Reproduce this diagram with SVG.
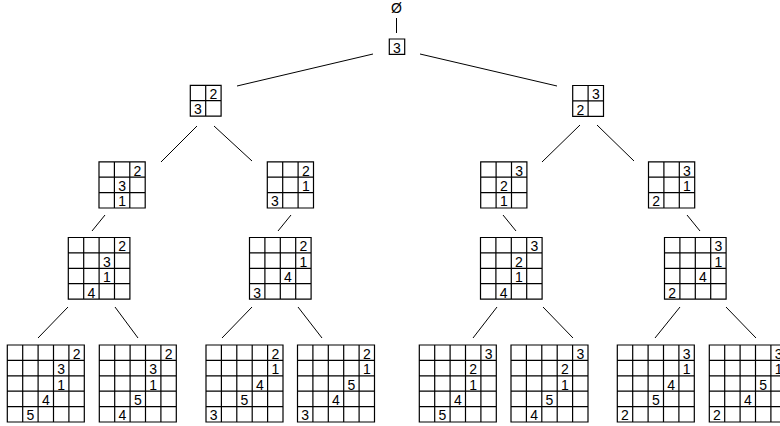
<svg xmlns="http://www.w3.org/2000/svg" xmlns:xlink="http://www.w3.org/1999/xlink" width="780" height="426" viewBox="0 0 780 426">
<style>
.grid{fill:#fff;stroke:#000;stroke-width:1.2}
.d{font-family:"Liberation Sans",Arial,sans-serif;font-size:14px;text-anchor:middle;fill:#000}
.e{stroke:#000;stroke-width:1;fill:none}
</style>
<defs>
<path id="g1" class="grid" d="M0 0H15.4V15.4H0Z"/>
<path id="g2" class="grid" d="M0 0H30.8V30.8H0Z M15.4 0V30.8 M0 15.4H30.8"/>
<path id="g3" class="grid" d="M0 0H46.2V46.2H0Z M15.4 0V46.2 M30.8 0V46.2 M0 15.4H46.2 M0 30.8H46.2"/>
<path id="g4" class="grid" d="M0 0H61.6V61.6H0Z M15.4 0V61.6 M30.8 0V61.6 M46.2 0V61.6 M0 15.4H61.6 M0 30.8H61.6 M0 46.2H61.6"/>
<path id="g5" class="grid" d="M0 0H77V77H0Z M15.4 0V77 M30.8 0V77 M46.2 0V77 M61.6 0V77 M0 15.4H77 M0 30.8H77 M0 46.2H77 M0 61.6H77"/>
</defs>
<rect width="780" height="426" fill="#fff"/>
<g id="connectors" class="e">
<line x1="396.5" y1="18" x2="396.5" y2="33"/>
<line x1="373" y1="54" x2="237" y2="86"/>
<line x1="420" y1="54" x2="557" y2="86"/>
<line x1="197" y1="126" x2="161" y2="162"/>
<line x1="214" y1="126" x2="252" y2="161"/>
<line x1="580" y1="125" x2="542" y2="162"/>
<line x1="597" y1="125" x2="634" y2="161"/>
<line x1="105" y1="215" x2="92" y2="231"/>
<line x1="291" y1="215" x2="278" y2="231"/>
<line x1="503" y1="215" x2="516" y2="231"/>
<line x1="687" y1="215" x2="700" y2="231"/>
<line x1="68" y1="307" x2="38" y2="338"/>
<line x1="115" y1="307" x2="138" y2="338"/>
<line x1="252" y1="307" x2="222" y2="338"/>
<line x1="298" y1="307" x2="322" y2="338"/>
<line x1="497" y1="307" x2="473" y2="338"/>
<line x1="543" y1="307" x2="573" y2="338"/>
<line x1="680" y1="307" x2="655" y2="338"/>
<line x1="726" y1="307" x2="756" y2="338"/>
</g>
<g id="root"><text class="d" x="396.5" y="13">Ø</text></g>
<g id="n1" transform="translate(389.3,39)"><use xlink:href="#g1"/><text class="d" x="7.7" y="13.8">3</text></g>
<g id="n2a" transform="translate(190.3,85.3)"><use xlink:href="#g2"/><text class="d" x="23.1" y="13.8">2</text><text class="d" x="7.7" y="29.2">3</text></g>
<g id="n2b" transform="translate(572.7,85.5)"><use xlink:href="#g2"/><text class="d" x="23.1" y="13.8">3</text><text class="d" x="7.7" y="29.2">2</text></g>
<g id="n3a" transform="translate(99,161.8)"><use xlink:href="#g3"/><text class="d" x="38.5" y="13.8">2</text><text class="d" x="23.1" y="29.2">3</text><text class="d" x="23.1" y="44.6">1</text></g>
<g id="n3b" transform="translate(267.3,161.8)"><use xlink:href="#g3"/><text class="d" x="38.5" y="13.8">2</text><text class="d" x="38.5" y="29.2">1</text><text class="d" x="7.7" y="44.6">3</text></g>
<g id="n3c" transform="translate(480.7,161.8)"><use xlink:href="#g3"/><text class="d" x="38.5" y="13.8">3</text><text class="d" x="23.1" y="29.2">2</text><text class="d" x="23.1" y="44.6">1</text></g>
<g id="n3d" transform="translate(648.5,161.8)"><use xlink:href="#g3"/><text class="d" x="38.5" y="13.8">3</text><text class="d" x="38.5" y="29.2">1</text><text class="d" x="7.7" y="44.6">2</text></g>
<g id="n4a" transform="translate(68.3,237.5)"><use xlink:href="#g4"/><text class="d" x="53.9" y="13.8">2</text><text class="d" x="38.5" y="29.2">3</text><text class="d" x="38.5" y="44.6">1</text><text class="d" x="23.1" y="60">4</text></g>
<g id="n4b" transform="translate(249.5,237.5)"><use xlink:href="#g4"/><text class="d" x="53.9" y="13.8">2</text><text class="d" x="53.9" y="29.2">1</text><text class="d" x="38.5" y="44.6">4</text><text class="d" x="7.7" y="60">3</text></g>
<g id="n4c" transform="translate(480.5,237.5)"><use xlink:href="#g4"/><text class="d" x="53.9" y="13.8">3</text><text class="d" x="38.5" y="29.2">2</text><text class="d" x="38.5" y="44.6">1</text><text class="d" x="23.1" y="60">4</text></g>
<g id="n4d" transform="translate(664.5,237.5)"><use xlink:href="#g4"/><text class="d" x="53.9" y="13.8">3</text><text class="d" x="53.9" y="29.2">1</text><text class="d" x="38.5" y="44.6">4</text><text class="d" x="7.7" y="60">2</text></g>
<g id="n5a" transform="translate(7.3,345)"><use xlink:href="#g5"/><text class="d" x="69.3" y="13.8">2</text><text class="d" x="53.9" y="29.2">3</text><text class="d" x="53.9" y="44.6">1</text><text class="d" x="38.5" y="60">4</text><text class="d" x="23.1" y="75.4">5</text></g>
<g id="n5b" transform="translate(99.3,345)"><use xlink:href="#g5"/><text class="d" x="69.3" y="13.8">2</text><text class="d" x="53.9" y="29.2">3</text><text class="d" x="53.9" y="44.6">1</text><text class="d" x="38.5" y="60">5</text><text class="d" x="23.1" y="75.4">4</text></g>
<g id="n5c" transform="translate(206,345)"><use xlink:href="#g5"/><text class="d" x="69.3" y="13.8">2</text><text class="d" x="69.3" y="29.2">1</text><text class="d" x="53.9" y="44.6">4</text><text class="d" x="38.5" y="60">5</text><text class="d" x="7.7" y="75.4">3</text></g>
<g id="n5d" transform="translate(297.5,345)"><use xlink:href="#g5"/><text class="d" x="69.3" y="13.8">2</text><text class="d" x="69.3" y="29.2">1</text><text class="d" x="53.9" y="44.6">5</text><text class="d" x="38.5" y="60">4</text><text class="d" x="7.7" y="75.4">3</text></g>
<g id="n5e" transform="translate(419.3,345)"><use xlink:href="#g5"/><text class="d" x="69.3" y="13.8">3</text><text class="d" x="53.9" y="29.2">2</text><text class="d" x="53.9" y="44.6">1</text><text class="d" x="38.5" y="60">4</text><text class="d" x="23.1" y="75.4">5</text></g>
<g id="n5f" transform="translate(511,345)"><use xlink:href="#g5"/><text class="d" x="69.3" y="13.8">3</text><text class="d" x="53.9" y="29.2">2</text><text class="d" x="53.9" y="44.6">1</text><text class="d" x="38.5" y="60">5</text><text class="d" x="23.1" y="75.4">4</text></g>
<g id="n5g" transform="translate(617.3,345)"><use xlink:href="#g5"/><text class="d" x="69.3" y="13.8">3</text><text class="d" x="69.3" y="29.2">1</text><text class="d" x="53.9" y="44.6">4</text><text class="d" x="38.5" y="60">5</text><text class="d" x="7.7" y="75.4">2</text></g>
<g id="n5h" transform="translate(709.3,345)"><use xlink:href="#g5"/><text class="d" x="69.3" y="13.8">3</text><text class="d" x="69.3" y="29.2">1</text><text class="d" x="53.9" y="44.6">5</text><text class="d" x="38.5" y="60">4</text><text class="d" x="7.7" y="75.4">2</text></g>
</svg>
